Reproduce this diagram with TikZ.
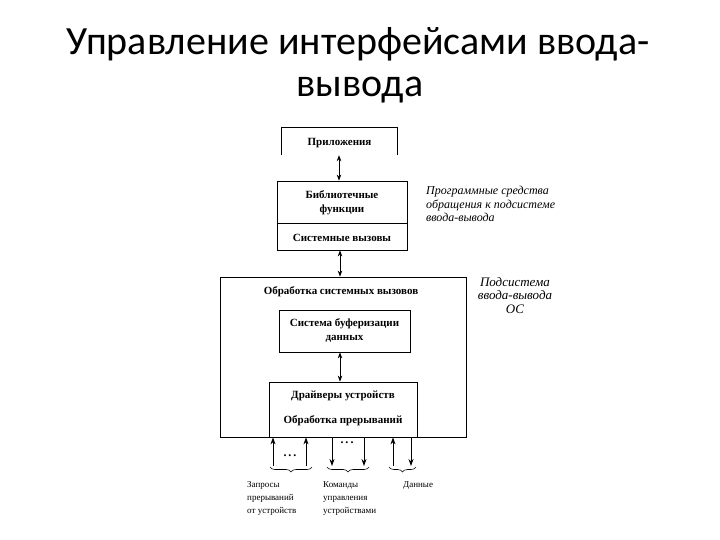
\documentclass[tikz,border=0pt]{standalone}
\usepackage{fontspec}
\setmainfont{Liberation Serif}
\newfontfamily\titlefont{Carlito}
\usetikzlibrary{arrows.meta,decorations.pathreplacing}
\begin{document}
\begin{tikzpicture}[x=1pt,y=-1pt,
  box/.style={draw,line width=0.8pt,inner sep=0pt},
  lbl/.style={font=\fontsize{11}{14}\selectfont\bfseries,inner sep=0pt,align=center},
  small/.style={font=\fontsize{9}{13}\selectfont,inner sep=0pt,align=left,anchor=north west},
  note/.style={font=\fontsize{12}{13.5}\selectfont\itshape,inner sep=0pt},
  ttl/.style={font=\titlefont\fontsize{40}{42}\selectfont,anchor=base,inner sep=0pt},
  dots/.style={font=\fontsize{12}{12}\selectfont\bfseries,inner sep=0pt},
  arr/.style={line width=0.8pt,{Stealth[length=6pt,width=4.5pt]}-{Stealth[length=6pt,width=4.5pt]}},
  uarr/.style={line width=0.8pt,-{Stealth[length=7pt,width=5pt]}},
  brc/.style={line width=0.6pt,decorate,decoration={brace,amplitude=5pt,mirror}}]
\useasboundingbox (0,0) rectangle (720,540);
% title
\node[ttl] (title1) at (358,55) {Управление интерфейсами ввода-};
\node[ttl] (title2) at (360,97) {вывода};
% application box (open at the bottom)
\node[inner sep=0pt,minimum width=115pt,minimum height=27pt] (app) at (339.5,141.5) {};
\draw[line width=0.8pt] (app.south west) |- (app.north east) -- (app.south east);
\node[lbl] (apptxt) at (339.5,143) {Приложения};
% library functions
\node[box,minimum width=130pt,minimum height=42pt] (lib) at (342,202) {};
\node[lbl] (libtxt) at (342,203) {Библиотечные\\функции};
\node[box,minimum width=130pt,minimum height=27pt] (sys) at (342,236.5) {};
\node[lbl] (systxt) at (342,238) {Системные вызовы};
% big box
\node[box,minimum width=246pt,minimum height=160pt] (big) at (343,357) {};
\node[lbl] (bigtxt) at (341,292) {Обработка системных вызовов};
\node[box,minimum width=131pt,minimum height=42pt] (buf) at (344.5,331) {};
\node[lbl] (buftxt) at (344.5,331) {Система буферизации\\данных};
\node[box,minimum width=148pt,minimum height=55pt] (drv) at (343,409.5) {};
\node[lbl] (drvtxt1) at (343,396) {Драйверы устройств};
\node[lbl] (drvtxt2) at (343,421) {Обработка прерываний};
% vertical arrows
\draw[arr] (app.south -| 339,0) -- (lib.north -| 339,0);
\draw[arr] (sys.south -| 340,0) -- (big.north -| 340,0);
\draw[arr] (buf.south -| 340,0) -- (drv.north -| 340,0);
% bottom arrows
\coordinate (u1) at (273,466);
\coordinate (u2) at (306,466);
\coordinate (d1) at (332,437);
\coordinate (d2) at (364,437);
\coordinate (u3) at (393,466);
\coordinate (d3) at (411,437);
\draw[uarr] (u1) -- (u1 |- drv.south);
\draw[uarr] (u2) -- (u2 |- drv.south);
\draw[uarr] (d1) -- (332,466);
\draw[uarr] (d2) -- (364,466);
\draw[uarr] (u3) -- (u3 |- drv.south);
\draw[uarr] (d3) -- (411,466);
\node[dots] (dots1) at (290,456) {.\,.\,.};
\node[dots] (dots2) at (347,443) {.\,.\,.};
% braces
\draw[brc] (270,467) -- (312,467);
\draw[brc] (327,467) -- (369,467);
\draw[brc] (389,467) -- (416,467);
% bottom labels
\node[small] (q1) at (247,481) {Запросы\\прерываний\\от устройств};
\node[small] (q2) at (323,481) {Команды\\управления\\устройствами};
\node[small] (q3) at (403,481) {Данные};
% notes
\node[note,align=left,anchor=north west] (n1) at (426,186) {Программные средства\\обращения к подсистеме\\ввода-вывода};
\node[note,font=\fontsize{13}{13.5}\selectfont\itshape,align=center,anchor=north] (n2) at (515,277) {Подсистема\\ввода-вывода\\ОС};
\end{tikzpicture}
\end{document}
